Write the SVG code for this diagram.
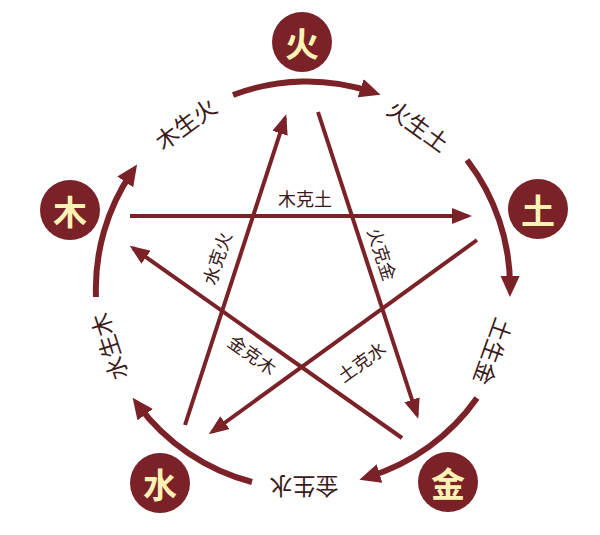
<svg xmlns="http://www.w3.org/2000/svg" width="600" height="535" viewBox="0 0 600 535">
<style>
.n{fill:#7a2228}
.nt{fill:#fdf2b5;font-family:"Noto Sans CJK SC",sans-serif;font-weight:bold;font-size:34px;text-anchor:middle;dominant-baseline:central}
.arc{fill:none;stroke:#7a2228;stroke-width:6;marker-end:url(#ab)}
.ln{stroke:#7a2228;stroke-width:4;marker-end:url(#a)}
.l{fill:#3a1a1a;font-family:"Noto Sans CJK SC",sans-serif;font-size:23px;text-anchor:middle;dominant-baseline:central}
.s{fill:#3a1a1a;font-family:"Noto Sans CJK SC",sans-serif;font-size:18px;text-anchor:middle;dominant-baseline:central}
</style>
<defs>
<marker id="a" markerWidth="5" markerHeight="4" refX="4" refY="2" orient="auto"><path d="M0,0L5,2L0,4z" fill="#7a2228"/></marker>
<marker id="ab" markerWidth="3.5" markerHeight="3.2" refX="2" refY="1.6" orient="auto"><path d="M0,0L3.5,1.6L0,3.2z" fill="#7a2228"/></marker>
</defs>
<rect width="600" height="535" fill="#fff"/>
<g id="connectors">
<path class="arc" d="M233,95 A207,207 0 0 1 372,92"/>
<path class="arc" d="M467,160 A207,207 0 0 1 510,288"/>
<path class="arc" d="M477,398 A207,207 0 0 1 368,477"/>
<path class="arc" d="M252,482 A207,207 0 0 1 138,405"/>
<path class="arc" d="M96,297 A207,207 0 0 1 132,172"/>
<line class="ln" x1="130" y1="216" x2="468" y2="216"/>
<line class="ln" x1="185" y1="425" x2="285" y2="118"/>
<line class="ln" x1="318" y1="112" x2="417" y2="415"/>
<line class="ln" x1="477" y1="240" x2="212" y2="432"/>
<line class="ln" x1="402" y1="438" x2="133" y2="248"/>
<text class="s" x="305" y="198">木克土</text>
<text class="s" transform="translate(216,258) rotate(-71.9)">水克火</text>
<text class="s" transform="translate(383,254) rotate(71.8)">火克金</text>
<text class="s" transform="translate(253,354) rotate(35.3)">金克木</text>
<text class="s" transform="translate(361,361) rotate(-35.9)">土克水</text>
<text class="l" transform="translate(185,123) rotate(-36)">木生火</text>
<text class="l" transform="translate(419,125) rotate(36)">火生土</text>
<text class="l" transform="translate(494,352) rotate(109.6)">土生金</text>
<text class="l" transform="translate(304,488) rotate(180)">金生水</text>
<text class="l" transform="translate(108,347) rotate(-108)">水生木</text>
</g>
<g id="fire"><circle class="n" cx="302" cy="42" r="30"/><text class="nt" x="302" y="42">火</text></g>
<g id="wood"><circle class="n" cx="70" cy="210" r="30"/><text class="nt" x="70" y="210">木</text></g>
<g id="earth"><circle class="n" cx="538" cy="209" r="30"/><text class="nt" x="538" y="209">土</text></g>
<g id="water"><circle class="n" cx="160" cy="483" r="30"/><text class="nt" x="160" y="483">水</text></g>
<g id="metal"><circle class="n" cx="448" cy="482" r="30"/><text class="nt" x="448" y="482">金</text></g>
</svg>
